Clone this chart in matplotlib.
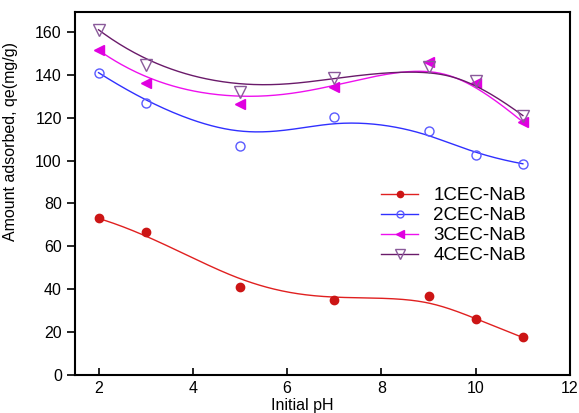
import numpy as np
import matplotlib
matplotlib.use("Agg")
import matplotlib.pyplot as plt

plt.rcParams['font.family'] = ['Liberation Sans', 'DejaVu Sans']

# dados
ph = [2, 3, 5, 7, 9, 10, 11]
cec1 = [73, 66.5, 41, 35, 37, 26, 17.5]
cec2 = [141, 127, 107, 120.5, 114, 102.5, 98.5]
cec3 = [151.5, 136, 126.5, 134.5, 146, 136, 118]
cec4 = [161, 144.5, 132, 138.5, 143.5, 137, 121]
nomes = ["1CEC-NaB", "2CEC-NaB", "3CEC-NaB", "4CEC-NaB"]


def base(i, k, t, nos):
    # Cox-de Boor
    if k == 0:
        b = ((nos[i] <= t) & (t < nos[i + 1])).astype(float)
        if nos[i + 1] == nos[-1] and nos[i] < nos[i + 1]:
            b[t == nos[-1]] = 1.0
        return b
    a = 0.0
    if nos[i + k] != nos[i]:
        a = (t - nos[i]) / (nos[i + k] - nos[i]) * base(i, k - 1, t, nos)
    c = 0.0
    if nos[i + k + 1] != nos[i + 1]:
        c = (nos[i + k + 1] - t) / (nos[i + k + 1] - nos[i + 1]) * base(i + 1, k - 1, t, nos)
    return a + c


def bspline(x, y, grau=3, n=300):
    m = len(x)
    nos = np.concatenate([np.zeros(grau), np.arange(m - grau + 1), np.full(grau, m - grau)]).astype(float)
    t = np.linspace(0, m - grau, n)
    px = np.zeros(n)
    py = np.zeros(n)
    for i in range(m):
        b = base(i, grau, t, nos)
        px += b * x[i]
        py += b * y[i]
    return px, py


fig = plt.figure(figsize=(5.79, 4.13), dpi=100)
ax = fig.add_axes([0.1295, 0.092, 0.855, 0.879])

estilos = [
    dict(color="#e02020", marker="o", mfc="#cc1515", mec="#cc1515", ms=6),
    dict(color="#3030ff", marker="o", mfc="none", mec="#5a5aff", ms=6.5),
    dict(color="#ee10ee", marker="<", mfc="#e000e0", mec="#e000e0", ms=7.5),
    dict(color="#6a1a6a", marker="v", mfc="none", mec="#8a5a9a", ms=8.5),
]

for dados, nome, st in zip([cec1, cec2, cec3, cec4], nomes, estilos):
    cx, cy = bspline(ph, dados)
    ax.plot(cx, cy, color=st["color"], lw=1)
    ax.plot(ph, dados, ls="none", marker=st["marker"], mfc=st["mfc"],
            mec=st["mec"], ms=st["ms"], mew=1)
    # entrada da legenda
    ax.plot([], [], color=st["color"], lw=1, marker=st["marker"], mfc=st["mfc"],
            mec=st["mec"], ms=st["ms"] - 1.5, label=nome)

ax.set_xlim(1.5, 12)
ax.set_ylim(0, 169.3)
ax.set_xticks([2, 4, 6, 8, 10, 12])
ax.set_yticks(range(0, 161, 20))
ax.tick_params(axis="x", direction="in", length=5, width=1.2, labelsize=11.5, pad=4)
ax.tick_params(axis="y", direction="out", length=6, width=1.2, labelsize=11.5)
for s in ax.spines.values():
    s.set_linewidth(1.5)

ax.set_xlabel("Initial pH", fontsize=11.5, va="top")
ax.xaxis.set_label_coords(0.459, -0.064)
ax.set_ylabel("Amount adsorbed, qe(mg/g)", fontsize=11.5)
ax.yaxis.set_label_coords(-0.115, 0.642)

ax.legend(loc="upper left", bbox_to_anchor=(0.584, 0.564), frameon=False,
          fontsize=13.5, handlelength=2, labelspacing=0.15, handletextpad=0.8)

fig.savefig("out.png", dpi=100)
